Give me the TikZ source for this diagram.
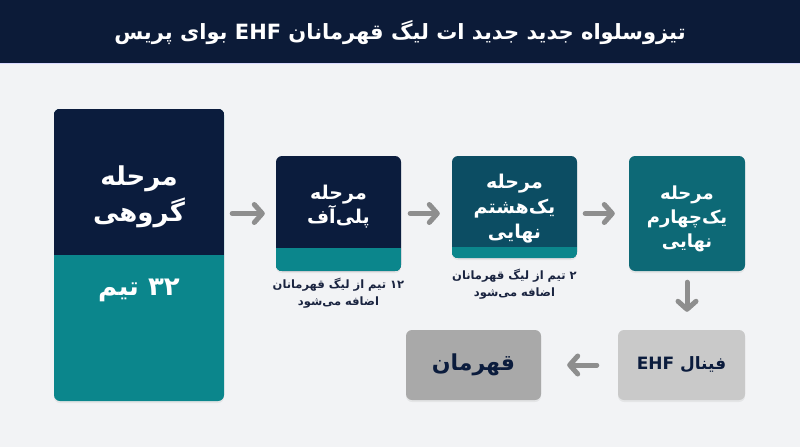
\documentclass[tikz,border=0pt]{standalone}
\usepackage{fontspec}
\usetikzlibrary{arrows.meta,shadows}
\TeXXeTstate=1
\newfontfamily\fa[Script=Arabic]{DejaVu Sans}
\definecolor{hdr}{HTML}{0C1B38}
\definecolor{navy}{HTML}{0B1C3D}
\definecolor{tealc}{HTML}{0B868C}
\definecolor{petrol}{HTML}{0C4D63}
\definecolor{qfc}{HTML}{0D6976}
\definecolor{bgc}{HTML}{F2F3F5}
\definecolor{arr}{HTML}{8E8E8E}
\definecolor{lgray}{HTML}{C9C9C9}
\definecolor{mgray}{HTML}{A9A9A9}
\definecolor{captc}{HTML}{1A2440}
\tikzset{
  box/.style={rounded corners=6pt, inner sep=0pt, drop shadow={opacity=0.12, shadow xshift=0pt, shadow yshift=-2pt}},
  flow/.style={draw=arr, line width=5pt, line cap=round, -{Straight Barb[length=8pt, width=18pt, round]}},
  boxtxt/.style={text=white, align=center, inner sep=0pt},
  capt/.style={text=captc, align=center, inner sep=0pt, font=\fa\bfseries\fontsize{11.5}{17}\selectfont},
}
\begin{document}
\begin{tikzpicture}[x=1pt,y=-1pt]
\useasboundingbox (0,0) rectangle (800,447);
\fill[bgc] (0,0) rectangle (800,447);
\fill[hdr] (0,0) rectangle (800,63);
\draw[white!85!blue, line width=1pt] (0,63.5) -- (800,63.5);
\node[text=white, inner sep=0pt, font=\fa\bfseries\fontsize{21}{26}\selectfont] (title) at (400,33)
  {\beginR تیزوسلواه جدید جدید ات لیگ قهرمانان \beginL EHF\endL{} بوای پریس\endR};

% group stage
\node[box, fill=tealc, minimum width=170pt, minimum height=292pt] (group) at (139,255) {};
\begin{scope}
\clip[rounded corners=6pt] (group.north west) rectangle (group.south east);
\fill[navy] (group.north west) rectangle (group.east);
\end{scope}
\node[boxtxt, font=\fa\bfseries\fontsize{26}{36}\selectfont] (grouptxt) at (139,197)
  {\beginR مرحله\endR\\\beginR گروهی\endR};
\node[boxtxt, font=\fa\bfseries\fontsize{26}{30}\selectfont] (teams) at (139,290) {\beginR ۳۲ تیم\endR};

% play-off
\node[box, fill=navy, minimum width=125pt, minimum height=115pt] (playoff) at (338.5,213.5) {};
\begin{scope}
\clip[rounded corners=6pt] (playoff.north west) rectangle (playoff.south east);
\fill[tealc] (playoff.south west) rectangle ([yshift=23pt]playoff.south east);
\end{scope}
\node[boxtxt, font=\fa\bfseries\fontsize{19}{24}\selectfont] (playofftxt) at (338.5,207)
  {\beginR مرحله\endR\\\beginR پلی‌آف\endR};
\node[capt] (playoffcap) at (338.5,293)
  {\beginR ۱۲ تیم از لیگ قهرمانان\endR\\\beginR اضافه می‌شود\endR};

% round of 16
\node[box, fill=petrol, minimum width=125pt, minimum height=102pt] (rsixteen) at (514.5,207) {};
\begin{scope}
\clip[rounded corners=6pt] (rsixteen.north west) rectangle (rsixteen.south east);
\fill[tealc] (rsixteen.south west) rectangle ([yshift=11pt]rsixteen.south east);
\end{scope}
\node[boxtxt, font=\fa\bfseries\fontsize{19}{25}\selectfont] (rsixteentxt) at (514.5,209)
  {\beginR مرحله\endR\\\beginR یک‌هشتم\endR\\\beginR نهایی\endR};
\node[capt] (rsixteencap) at (514.5,284)
  {\beginR ۲ تیم از لیگ قهرمانان\endR\\\beginR اضافه می‌شود\endR};

% quarter final
\node[box, fill=qfc, minimum width=116pt, minimum height=115pt] (qf) at (687,213.5) {};
\node[boxtxt, font=\fa\bfseries\fontsize{18}{24}\selectfont] (qftxt) at (687,219)
  {\beginR مرحله\endR\\\beginR یک‌چهارم\endR\\\beginR نهایی\endR};

% final and champion
\node[box, fill=lgray, minimum width=127pt, minimum height=70pt, text=navy,
  font=\fa\bfseries\fontsize{17}{20}\selectfont] (final) at (681.5,365)
  {\beginR فینال \beginL EHF\endL\endR};
\node[box, fill=mgray, minimum width=135pt, minimum height=70pt, text=navy,
  font=\fa\bfseries\fontsize{22}{26}\selectfont] (champ) at (473.5,365)
  {\beginR قهرمان\endR};

% connectors
\draw[flow, shorten <=8pt, shorten >=11pt] (group.east |- playoff.west) -- (playoff.west);
\draw[flow, shorten <=9pt, shorten >=12pt] (playoff.east) -- (rsixteen.west |- playoff.east);
\draw[flow, shorten <=8pt, shorten >=14pt] (rsixteen.east |- qf.west) -- (qf.west);
\draw[flow, shorten <=11pt, shorten >=18pt] (qf.south) -- (qf.south |- final.north);
\draw[flow, shorten <=21pt, shorten >=26pt] (final.west) -- (champ.east);
\end{tikzpicture}
\end{document}
